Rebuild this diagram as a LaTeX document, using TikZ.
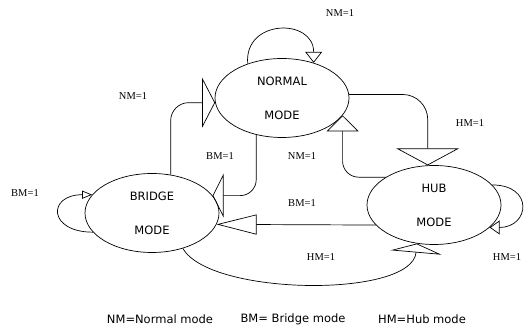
\documentclass[tikz,border=0pt]{standalone}
\usepackage{fontspec}
\setmainfont{Liberation Serif}
\setsansfont{DejaVu Sans}
\usetikzlibrary{shapes.geometric,arrows.meta}

\tikzset{
  modenode/.style={draw, ellipse, line width=0.7pt, minimum width=134pt,
    minimum height=79pt, inner sep=0pt, align=center,
    font=\sffamily\fontsize{11.5}{34}\selectfont},
  cond/.style={font=\fontsize{10.5}{12}\selectfont},
  legend/.style={font=\sffamily\fontsize{11.5}{14}\selectfont},
  trans/.style 2 args={line width=0.7pt, -{Triangle[open, length=#1, width=#2]}}
}

\begin{document}
\begin{tikzpicture}[x=1pt, y=1pt]
    \useasboundingbox (0,0) rectangle (529,328);
    % the three modes
    \node[modenode] (normal) at (282,230) {NORMAL\\MODE};
    \node[modenode] (bridge) at (152,115) {BRIDGE\\MODE};
    \node[modenode] (hub)    at (434,123) {HUB\\MODE};
    % transitions between modes
    \draw[trans={13pt}{50pt}, rounded corners=18pt] (bridge.64) |- (normal.184);
    \draw[trans={11pt}{44pt}, rounded corners=16pt] (normal.235) |- (bridge.16);
    \draw[trans={40pt}{20pt}] (hub.199) -- (bridge.350);
    \draw[trans={17pt}{63pt}, rounded corners=25pt] (normal.3) -| (hub.99);
    \draw[trans={16pt}{32pt}, rounded corners=16pt] (hub.150) -| (normal.344);
    \draw[trans={9pt}{51pt}] (bridge.311) to[out=-60, in=-95, looseness=0.6] (hub.246);
    % self loops
    \draw[trans={11pt}{17pt}] (normal.135) .. controls +(95:45) and +(90:45) .. (normal.48);
    \draw[trans={10pt}{8pt}] (bridge.198) .. controls +(180:45) and +(180:45) .. (bridge.163);
    \draw[trans={10pt}{14pt}] (hub.19) .. controls +(0:42) and +(0:40) .. (hub.338);
    % conditions
    \node[cond] (nmloop)   at (340,315) {NM=1};
    \node[cond] (nmtonorm) at (133,232) {NM=1};
    \node[cond] (bmtobrg)  at (220,172) {BM=1};
    \node[cond] (bmloop)   at (25,135)  {BM=1};
    \node[cond] (hmtohub)  at (470,205) {HM=1};
    \node[cond] (nmfrhub)  at (302,172) {NM=1};
    \node[cond] (bmfrhub)  at (302,125) {BM=1};
    \node[cond] (hmfrbrg)  at (321,71)  {HM=1};
    \node[cond] (hmloop)   at (507,71)  {HM=1};
    % key
    \node[legend] (keynm) at (160,9) {NM=Normal mode};
    \node[legend] (keybm) at (293,9) {BM= Bridge mode};
    \node[legend] (keyhm) at (422,9) {HM=Hub mode};
\end{tikzpicture}
\end{document}
